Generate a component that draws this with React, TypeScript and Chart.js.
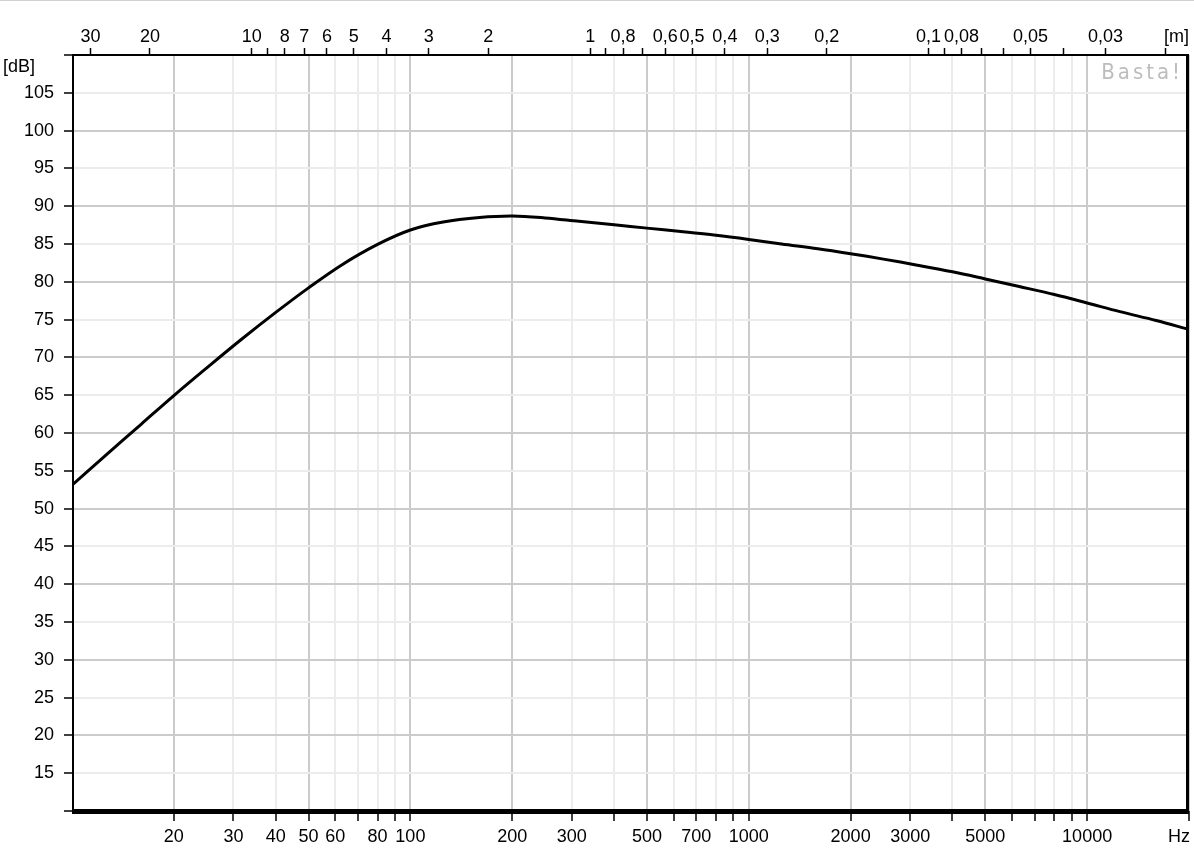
import React, { useEffect, useRef } from 'react';
import { Chart, registerables } from 'chart.js';

Chart.register(...registerables);

// Frequency response (Hz -> dB)
const freqHz = [10, 12.5, 16, 20, 25, 31.5, 40, 50, 63, 80, 100, 125, 160, 200, 250, 315, 400, 500, 630, 800, 1000, 1250, 1600, 2000, 2500, 3150, 4000, 5000, 6300, 8000, 10000, 12500, 16000, 20000];
const levelDb = [53.1, 56.95, 61.15, 64.95, 68.6, 72.3, 75.95, 79.2, 82.3, 84.95, 86.85, 87.9, 88.5, 88.7, 88.45, 88.0, 87.55, 87.1, 86.65, 86.15, 85.6, 85.0, 84.38, 83.72, 83.0, 82.2, 81.32, 80.38, 79.38, 78.32, 77.2, 76.05, 74.88, 73.7];

// Bottom (frequency) axis ticks
const freqTicks = [20, 30, 40, 50, 60, 70, 80, 90, 100, 200, 300, 400, 500, 600, 700, 800, 900, 1000, 2000, 3000, 4000, 5000, 6000, 7000, 8000, 9000, 10000, 20000];
const freqLabels = ['20', '30', '40', '50', '60', '', '80', '', '100', '200', '300', '', '500', '', '700', '', '', '1000', '2000', '3000', '', '5000', '', '', '', '', '10000', ''];
const freqMajor = [20, 50, 100, 200, 500, 1000, 2000, 5000, 10000, 20000];

// Top (wavelength) axis ticks, meters
const meterTicks = [30, 20, 10, 9, 8, 7, 6, 5, 4, 3, 2, 1, 0.9, 0.8, 0.7, 0.6, 0.5, 0.4, 0.3, 0.2, 0.1, 0.09, 0.08, 0.07, 0.06, 0.05, 0.04, 0.03, 0.02];
const meterLabels = ['30', '20', '10', '', '8', '7', '6', '5', '4', '3', '2', '1', '', '0,8', '', '0,6', '0,5', '0,4', '0,3', '0,2', '0,1', '', '0,08', '', '', '0,05', '', '0,03', ''];
const SOUND_SPEED = 340;

// Level axis ticks
const dbTicks = [10, 15, 20, 25, 30, 35, 40, 45, 50, 55, 60, 65, 70, 75, 80, 85, 90, 95, 100, 105, 110];

const FONT = { family: '"Liberation Sans", Arial, sans-serif', size: 18 };
const MAJOR = '#cbcbcb';
const MINOR = '#ececec';

const framePlugin = {
  id: 'frame',
  afterDraw(chart: any) {
    const { ctx, chartArea: a, scales } = chart;
    ctx.save();
    ctx.fillStyle = '#d0d0d0';
    ctx.fillRect(0, 0, chart.width, 1);
    ctx.fillStyle = '#000';
    ctx.fillRect(a.left, a.top - 1, a.right - a.left, 2);
    ctx.fillRect(a.left, a.top, 2, a.bottom - a.top);
    ctx.fillRect(a.right - 3, a.top - 1, 3, a.bottom - a.top + 2);
    ctx.fillRect(a.left, a.bottom - 2, a.right - a.left, 5);
    ctx.font = `${FONT.size}px ${FONT.family}`;
    ctx.textBaseline = 'alphabetic';
    ctx.textAlign = 'left';
    ctx.fillText('[dB]', 3, 72);
    ctx.textAlign = 'right';
    ctx.fillText('Hz', scales.x.getPixelForValue(20000) + 1, 842);
    ctx.textAlign = 'left';
    ctx.fillText('[m]', scales.x2.getPixelForValue(SOUND_SPEED / 0.02) - 1, 42);
    // watermark
    ctx.fillStyle = '#bdbdbd';
    ctx.font = '22px "DejaVu Sans Condensed", "DejaVu Sans", sans-serif';
    (ctx as any).letterSpacing = '3px';
    ctx.textAlign = 'right';
    ctx.fillText('Basta!', a.right - 6, 79);
    ctx.restore();
  },
};

export default function App() {
  const ref = useRef<HTMLCanvasElement>(null);
  useEffect(() => {
    if (!ref.current) return;
    const chart = new Chart(ref.current, {
      type: 'line',
      data: {
        datasets: [
          {
            data: freqHz.map((f, i) => ({ x: f, y: levelDb[i] })),
            borderColor: '#000',
            borderWidth: 3,
            pointRadius: 0,
            fill: false,
            tension: 0.35,
          },
        ],
      },
      options: {
        responsive: false,
        maintainAspectRatio: false,
        animation: false,
        layout: { padding: { left: 0, right: 5, top: 0, bottom: 0 } },
        plugins: { legend: { display: false }, tooltip: { enabled: false } },
        scales: {
          x: {
            type: 'logarithmic',
            position: 'bottom',
            min: 10,
            max: 20000,
            afterBuildTicks: (s: any) => {
              s.ticks = freqTicks.map((v) => ({ value: v }));
            },
            afterFit: (s: any) => {
              s.height = 39;
            },
            ticks: {
              autoSkip: false,
              maxRotation: 0,
              minRotation: 0,
              padding: 5,
              color: '#000',
              font: FONT,
              callback: (_v: any, i: number) => freqLabels[i],
            },
            grid: {
              color: (c: any) => (c.tick && freqMajor.includes(c.tick.value) ? MAJOR : MINOR),
              lineWidth: 2,
              tickColor: '#000',
              tickWidth: 1.5,
              tickLength: 10,
            },
            border: { display: false },
          },
          x2: {
            type: 'logarithmic',
            position: 'top',
            min: 10,
            max: 20000,
            afterBuildTicks: (s: any) => {
              s.ticks = meterTicks.map((m) => ({ value: SOUND_SPEED / m }));
            },
            afterFit: (s: any) => {
              s.height = 55;
            },
            ticks: {
              autoSkip: false,
              maxRotation: 0,
              minRotation: 0,
              padding: 0,
              color: '#000',
              font: FONT,
              callback: (_v: any, i: number) => meterLabels[i],
            },
            grid: {
              drawOnChartArea: false,
              color: '#000',
              tickColor: '#000',
              tickWidth: 1.5,
              tickLength: 7,
            },
            border: { display: false },
          },
          y: {
            type: 'linear',
            position: 'left',
            min: 10,
            max: 110,
            afterBuildTicks: (s: any) => {
              s.ticks = dbTicks.map((v) => ({ value: v }));
            },
            afterFit: (s: any) => {
              s.width = 72;
            },
            ticks: {
              autoSkip: false,
              padding: 10,
              color: '#000',
              font: FONT,
              callback: (v: any) => (v === 10 || v === 110 ? '' : String(v)),
            },
            grid: {
              color: (c: any) => (c.tick && c.tick.value % 10 === 0 ? MAJOR : MINOR),
              lineWidth: 2,
              tickColor: '#000',
              tickWidth: 1.5,
              tickLength: 8,
            },
            border: { display: false },
          },
        },
      } as any,
      plugins: [framePlugin],
    });
    return () => chart.destroy();
  }, []);
  return (
    <div style={{ position: 'absolute', left: 0, top: 0, width: 1194, height: 850, background: '#fff' }}>
      <canvas ref={ref} width={1194} height={850} style={{ display: 'block' }} />
    </div>
  );
}
